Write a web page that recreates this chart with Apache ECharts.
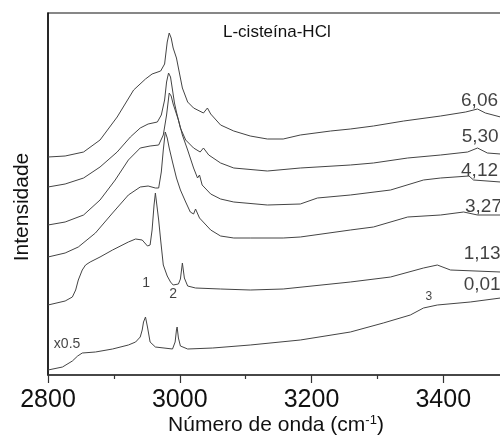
<!DOCTYPE html>
<html><head><meta charset="utf-8">
<script src="https://cdn.jsdelivr.net/npm/echarts@6/dist/echarts.min.js"></script>
<style>html,body{margin:0;padding:0;background:#fff}#c{width:500px;height:436px}</style>
</head><body><div id="c"></div>
<script>
// x ticks shown on the axis
const xTicks = [2800, 3000, 3200, 3400, 3600];

// Spectra: wavenumber (cm^-1) and intensity (arbitrary units, offset stacked)
const s606_x = [2800,2826,2854,2879,2905,2930,2948,2958,2971,2977,2981,2984,2987,2990,2995,2998,3004,3012,3021,3036,3042,3047,3062,3082,3107,3133,3157,3183,3229,3259,3294,3340,3396,3434,3452,3464,3487,3520];
const s606_y = [218,219,223,235,258,285,296,301,304,311,333,342,337,327,317,307,287,273,267,262,267,261,250,244,239,236,236,240,244,246,249,254,259,263,266,262,258,255];

const s530_x = [2800,2826,2854,2879,2905,2925,2940,2952,2966,2972,2977,2980,2983,2986,2989,2992,2995,3001,3009,3021,3031,3036,3044,3062,3082,3133,3183,3259,3294,3346,3396,3437,3452,3467,3487,3520];
const s530_y = [188,191,197,208,223,238,247,251,253,260,275,293,302,298,285,272,263,247,235,227,223,227,220,212,207,204,207,210,212,217,220,223,227,222,221,219];

const s412_x = [2800,2826,2854,2879,2902,2922,2940,2955,2968,2975,2980,2984,2987,2990,2993,2998,3004,3012,3021,3027,3030,3034,3047,3062,3082,3133,3183,3209,3259,3320,3370,3396,3439,3446,3487,3520];
const s412_y = [150,153,160,175,195,215,227,229,230,240,260,282,279,271,265,255,240,225,207,197,200,190,181,176,173,170,171,177,180,185,195,197,199,195,193,191];

const s327_x = [2800,2826,2846,2872,2898,2922,2940,2952,2963,2968,2972,2975,2978,2981,2984,2989,2995,3001,3009,3016,3021,3024,3030,3047,3062,3082,3107,3157,3183,3259,3294,3346,3396,3431,3452,3487,3520];
const s327_y = [118,122,128,142,162,180,188,189,187,187,203,225,243,237,227,213,197,185,173,163,161,166,157,145,139,137,137,137,138,145,148,158,160,163,160,160,159];

const s113_x = [2800,2826,2837,2842,2846,2852,2857,2864,2879,2898,2922,2933,2943,2951,2955,2958,2961,2963,2965,2968,2971,2975,2981,2986,2990,2998,3001,3004,3007,3012,3024,3062,3107,3157,3259,3320,3370,3391,3411,3487,3520];
const s113_y = [70,74,78,85,95,105,110,113,118,125,133,136,135,129,130,145,170,182,180,155,135,110,99,93,90,91,96,112,97,89,87,86,85,86,93,98,107,110,105,103,102];

const s001_x = [2800,2822,2837,2845,2852,2872,2898,2922,2933,2940,2943,2945,2948,2951,2955,2963,2989,2993,2995,2996,2998,3001,3012,3050,3107,3183,3259,3309,3350,3370,3391,3441,3487,3520];
const s001_y = [5,8,14,19,22,23,26,30,33,38,45,53,58,48,33,28,26,33,45,48,37,29,26,27,30,35,43,52,60,67,70,73,77,79];

// Right-hand concentration labels: text, anchor x, anchor y
const endLabels = ['6,06','5,30','4,12','3,27','1,13','0,01'];
const endLabelX = [3427,3428,3427,3433,3431,3431];
const endLabelY = [274,238,204,168,121,90];

// Peak / scale annotations
const noteText = ['1','2','3','x0.5'];
const noteX = [2949,2990,3378,2829];
const noteY = [92,81,78,31];
const noteSize = [14,14,12,14];

const FONT = 'Liberation Sans, Arial, sans-serif';
const zip = (xs, ys) => xs.map((x, i) => [x, ys[i]]);
const spectra = [[s606_x,s606_y],[s530_x,s530_y],[s412_x,s412_y],[s327_x,s327_y],[s113_x,s113_y],[s001_x,s001_y]];

const chart = echarts.init(document.getElementById('c'), null, {renderer: 'canvas'});
const series = spectra.map(([xs, ys]) => ({
  type: 'line', data: zip(xs, ys), symbol: 'none', silent: true,
  lineStyle: {color: '#444', width: 1}, animation: false
}));
series.push({
  type: 'scatter', symbolSize: 0, silent: true, animation: false,
  data: endLabels.map((t, i) => ({value: [endLabelX[i], endLabelY[i]], name: t})),
  label: {show: true, position: 'right', distance: 0, formatter: p => p.name,
          fontSize: 19, fontFamily: FONT, color: '#111'}
});
series.push({
  type: 'scatter', symbolSize: 0, silent: true, animation: false,
  data: noteText.map((t, i) => ({value: [noteX[i], noteY[i]], name: t,
          label: {fontSize: noteSize[i]}})),
  label: {show: true, position: 'inside', formatter: p => p.name,
          fontFamily: FONT, color: '#111'}
});

chart.setOption({
  animation: false,
  backgroundColor: '#fff',
  title: {text: 'L-cisteína-HCl', left: 218, top: 19,
          textStyle: {fontSize: 17, fontWeight: 'normal', fontFamily: FONT, color: '#111'}},
  grid: {left: 48, top: 13, width: 527, height: 362, show: true, borderColor: '#111', borderWidth: 1.2,
         containLabel: false, outerBoundsMode: 'none'},
  xAxis: {
    type: 'value', min: xTicks[0], max: xTicks[xTicks.length - 1], interval: 200,
    axisLine: {show: true, lineStyle: {color: '#333', width: 1.5}},
    axisTick: {show: true, length: 8, lineStyle: {color: '#333', width: 1.2}},
    minorTick: {show: true, splitNumber: 2, length: 4, lineStyle: {color: '#333', width: 1.2}},
    axisLabel: {fontSize: 25, color: '#111', fontFamily: FONT, margin: 13, formatter: v => String(v)},
    splitLine: {show: false}
  },
  yAxis: {
    type: 'value', min: 0, max: 362,
    axisLine: {show: true, lineStyle: {color: '#111', width: 1.5}},
    axisTick: {show: false}, axisLabel: {show: false}, splitLine: {show: false}
  },
  graphic: [
    {type: 'text', x: 22, y: 207, rotation: Math.PI / 2,
     style: {text: 'Intensidade', font: '21px ' + FONT, fill: '#111', textAlign: 'center', textVerticalAlign: 'middle'}},
    {type: 'text', x: 276, y: 425,
     style: {text: 'Número de onda (cm{sup|-1})', font: '21px ' + FONT, fill: '#111',
             textAlign: 'center', textVerticalAlign: 'middle',
             rich: {sup: {fontSize: 13, fontFamily: FONT, verticalAlign: 'top', lineHeight: 22}}}}
  ],
  series: series
});
</script></body></html>
